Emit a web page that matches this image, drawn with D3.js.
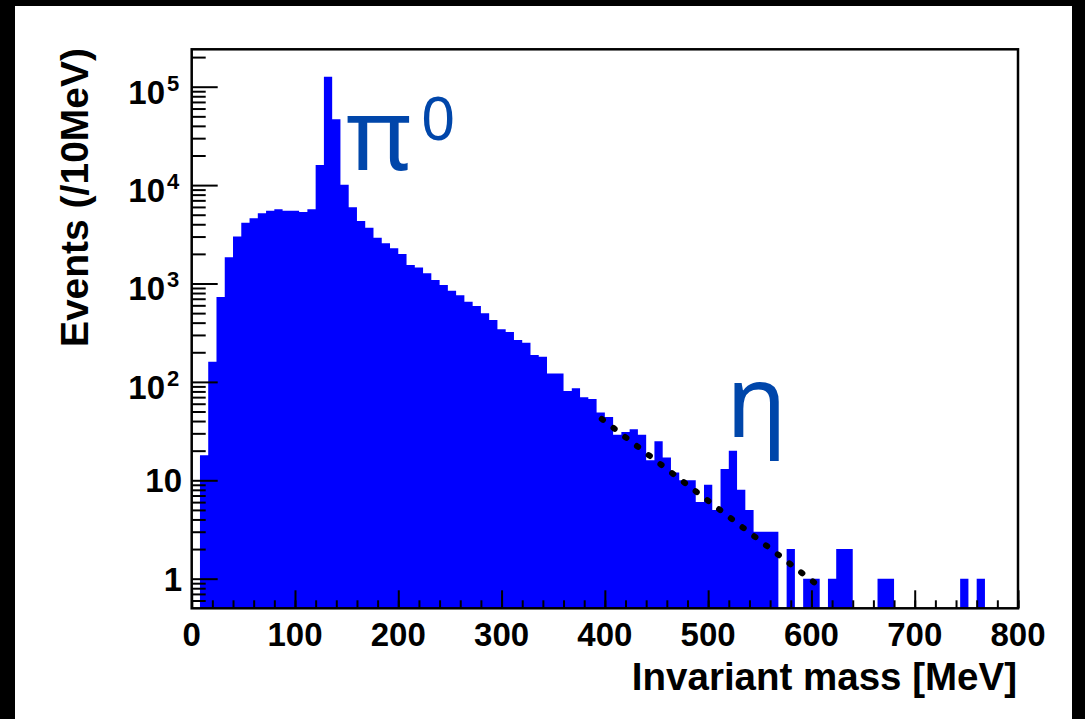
<!DOCTYPE html>
<html>
<head>
<meta charset="utf-8">
<script src="https://cdn.jsdelivr.net/npm/d3@7"></script>
<style>
  body { margin: 0; background: #000; }
  svg { display: block; }
</style>
</head>
<body>
<div id="chart"></div>
<script>
// Invariant mass histogram, 100 bins of 8 MeV from 0 to 800 MeV
const binWidth = 8;
const counts = [
  0, 18, 160, 730, 1850, 3000, 4150, 4600, 5170, 5490,
  5680, 5490, 5490, 5330, 5680, 16000, 126500, 46600, 10100, 5950,
  4320, 3690, 2920, 2560, 2280, 1995, 1540, 1450, 1270, 1085,
  966, 845, 759, 653, 591, 498, 426, 343, 322, 267,
  250, 188, 180, 122, 122, 81, 86, 70, 67, 49,
  44, 29, 31, 33, 29, 16, 25, 17, 12, 10,
  10, 6, 9, 5, 13, 20, 8, 5, 3, 3,
  3, 0, 2, 0, 1, 1, 0, 1, 2, 2,
  0, 0, 0, 1, 1, 0, 0, 0, 0, 0,
  0, 0, 0, 1, 0, 1, 0, 0, 0, 0
];

// exponential background fit (dotted), end points
const fitMass = [397, 610];
const fitValue = [42, 0.8];

const xTicks = [0, 100, 200, 300, 400, 500, 600, 700, 800];
const yDecades = [0, 1, 2, 3, 4, 5];   // exponents for 1 .. 10^5

const W = 1085, H = 719;
const plot = { left: 191.7, right: 1018, top: 49.3, bottom: 608.3 };

const svg = d3.select("#chart").append("svg")
    .attr("width", W)
    .attr("height", H);

// black frame round white canvas
svg.append("rect").attr("width", W).attr("height", H).attr("fill", "#000");
svg.append("rect").attr("x", 15).attr("y", 6)
    .attr("width", 1072 - 15).attr("height", H - 6)
    .attr("fill", "#fff");

const x = d3.scaleLinear().domain([0, 800]).range([plot.left, plot.right]);
const y = d3.scaleLog().domain([0.5, 2.4e5]).range([plot.bottom, plot.top]).clamp(true);

// histogram as one stepped filled area
const edges = counts.map((c, i) => ({ m: i * binWidth, c: c }));
edges.push({ m: counts.length * binWidth, c: 0 });

const area = d3.area()
    .x(d => x(d.m))
    .y0(plot.bottom)
    .y1(d => d.c > 0 ? y(d.c) : plot.bottom)
    .curve(d3.curveStepAfter);

svg.append("path")
    .datum(edges)
    .attr("d", area)
    .attr("fill", "#0000ff")
    .attr("stroke", "none");

// dotted fit line
const fitPts = fitMass.map((m, i) => [m, fitValue[i]]);
svg.append("path")
    .datum(fitPts)
    .attr("d", d3.line().x(d => x(d[0])).y(d => y(d[1])))
    .attr("fill", "none")
    .attr("stroke", "#000")
    .attr("stroke-width", 6)
    .attr("stroke-linecap", "round")
    .attr("stroke-dasharray", "1.5 13.3");

// axes
const gx = svg.append("g").attr("transform", `translate(0,${plot.bottom})`);
gx.call(d3.axisBottom(x).tickValues(d3.range(0, 801, 20)).tickSize(-8).tickFormat(""));
gx.append("g").call(d3.axisBottom(x).tickValues(xTicks).tickSize(-18).tickFormat(""));
gx.selectAll(".domain").remove();
gx.selectAll("line").attr("stroke", "#000").attr("stroke-width", 2);

const minorY = [];
yDecades.forEach(e => d3.range(2, 10).forEach(k => minorY.push(k * Math.pow(10, e))));
minorY.push(0.6, 0.7, 0.8, 0.9);
const gy = svg.append("g").attr("transform", `translate(${plot.left},0)`);
gy.call(d3.axisLeft(y).tickValues(minorY.filter(v => v < 2.4e5)).tickSize(-14).tickFormat(""));
gy.append("g").call(d3.axisLeft(y).tickValues(yDecades.map(e => Math.pow(10, e))).tickSize(-26).tickFormat(""));
gy.selectAll(".domain").remove();
gy.selectAll("line").attr("stroke", "#000").attr("stroke-width", 2);

// frame
svg.append("rect")
    .attr("x", plot.left).attr("y", plot.top)
    .attr("width", plot.right - plot.left).attr("height", plot.bottom - plot.top)
    .attr("fill", "none").attr("stroke", "#000").attr("stroke-width", 2.5);

const font = "'Liberation Sans', Arial, sans-serif";

// x tick labels
svg.selectAll(".xlab").data(xTicks).join("text")
    .attr("x", d => x(d))
    .attr("y", plot.bottom + 38)
    .attr("text-anchor", "middle")
    .attr("font-family", font).attr("font-weight", "bold").attr("font-size", 33)
    .text(d => d);

// y tick labels
yDecades.forEach(e => {
  const ty = y(Math.pow(10, e));
  if (e <= 1) {
    svg.append("text")
        .attr("x", 182).attr("y", ty + 12)
        .attr("text-anchor", "end")
        .attr("font-family", font).attr("font-weight", "bold").attr("font-size", 33)
        .text(e === 0 ? "1" : "10");
  } else {
    svg.append("text")
        .attr("x", 165).attr("y", ty + 17)
        .attr("text-anchor", "end")
        .attr("font-family", font).attr("font-weight", "bold").attr("font-size", 33)
        .text("10");
    svg.append("text")
        .attr("x", 167).attr("y", ty + 4)
        .attr("font-family", font).attr("font-weight", "bold").attr("font-size", 22)
        .text(e);
  }
});

// axis titles
svg.append("text")
    .attr("x", 1017).attr("y", 690)
    .attr("text-anchor", "end")
    .attr("font-family", font).attr("font-weight", "bold").attr("font-size", 38.5)
    .text("Invariant mass [MeV]");

svg.append("text")
    .attr("transform", "translate(88,48) rotate(-90)")
    .attr("text-anchor", "end")
    .attr("font-family", font).attr("font-weight", "bold").attr("font-size", 39)
    .text("Events (/10MeV)");

// particle labels
const labelColor = "#0046aa";
svg.append("text")
    .attr("x", 346).attr("y", 170)
    .attr("font-family", "'Noto Sans', sans-serif").attr("font-size", 100)
    .attr("fill", labelColor)
    .text("π");
svg.append("text")
    .attr("x", 421).attr("y", 140)
    .attr("font-family", "'Noto Sans', sans-serif").attr("font-size", 60)
    .attr("fill", labelColor)
    .text("0");
svg.append("text")
    .attr("x", 726).attr("y", 437)
    .attr("font-family", "'Noto Sans', sans-serif").attr("font-size", 100)
    .attr("fill", labelColor)
    .text("η");
</script>
</body>
</html>
